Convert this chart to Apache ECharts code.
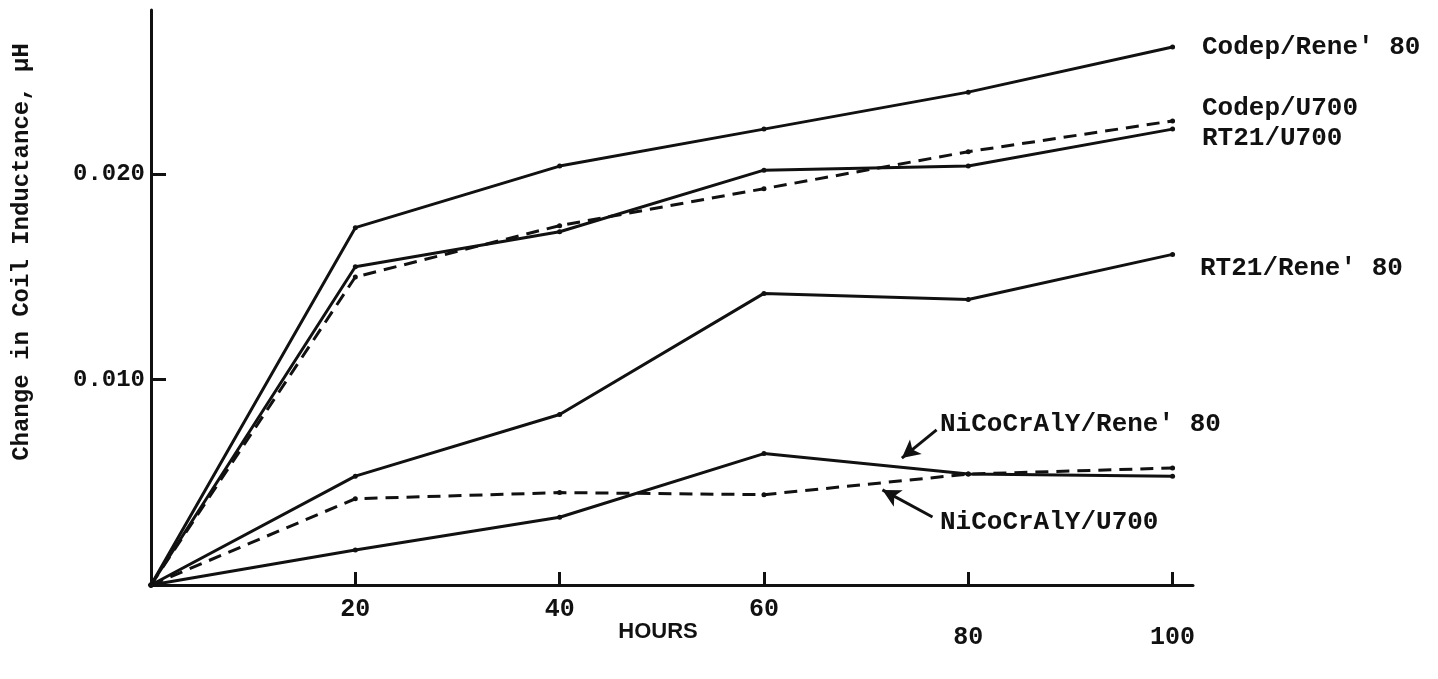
<!DOCTYPE html>
<html>
<head>
<meta charset="utf-8">
<script src="https://cdn.jsdelivr.net/npm/echarts@6/dist/echarts.min.js"></script>
<style>
html,body{margin:0;padding:0;background:#fff;}
#chart{width:1438px;height:679px;}
</style>
</head>
<body>
<div id="chart"></div>
<script>
// ---- data ----
const hours = [0, 20, 40, 60, 80, 100];
const codepRene80 = [0, 0.0174, 0.0204, 0.0222, 0.0240, 0.0262];
const codepU700   = [0, 0.0150, 0.0175, 0.0193, 0.0211, 0.0226];
const rt21U700    = [0, 0.0155, 0.0172, 0.0202, 0.0204, 0.0222];
const rt21Rene80  = [0, 0.0053, 0.0083, 0.0142, 0.0139, 0.0161];
const nicoRene80  = [0, 0.0017, 0.0033, 0.0064, 0.0054, 0.0053];
const nicoU700    = [0, 0.0042, 0.0045, 0.0044, 0.0054, 0.0057];
const xTicks = [20, 40, 60, 80, 100];
const yTicks = [0.01, 0.02];
const yTickLabels = ['0.010', '0.020'];
const xLowLabels = [80, 100];
const xAxisName = 'HOURS';
const yAxisName = 'Change in Coil Inductance, \u03bcH';
// annotation arrows (tail -> tip) in data units
const arrowRene = [[76.9, 0.00755], [73.5, 0.00618]];
const arrowU700 = [[76.5, 0.00331], [71.6, 0.00463]];

const mono = "'Liberation Mono', 'DejaVu Sans Mono', monospace";
const ink = '#111';

function pts(ys) { return hours.map((h, i) => [h, ys[i]]); }

function mkSeries(name, ys, dashed) {
  return {
    name: name, type: 'line', data: pts(ys),
    symbol: 'circle', symbolSize: 5, showSymbol: true,
    itemStyle: { color: ink },
    lineStyle: { color: ink, width: 3, type: dashed ? [13, 8] : 'solid' },
    z: 3, silent: true, animation: false
  };
}

const series = [
  mkSeries("Codep/Rene' 80", codepRene80, false),
  mkSeries('Codep/U700', codepU700, true),
  mkSeries('RT21/U700', rt21U700, false),
  mkSeries("RT21/Rene' 80", rt21Rene80, false),
  mkSeries("NiCoCrAlY/Rene' 80", nicoRene80, false),
  mkSeries('NiCoCrAlY/U700', nicoU700, true)
];
series[4].markLine = {
  silent: true, animation: false, symbol: ['none', 'arrow'], symbolSize: [14, 18],
  label: { show: false },
  lineStyle: { color: ink, width: 3, type: 'solid' },
  data: [
    [{ coord: arrowRene[0] }, { coord: arrowRene[1] }],
    [{ coord: arrowU700[0] }, { coord: arrowU700[1] }]
  ]
};

const chart = echarts.init(document.getElementById('chart'));
function label(txt, x, y) {
  return {
    type: 'text', x: x, y: y, silent: true,
    style: { text: txt, fontFamily: mono, fontWeight: 'bold', fontSize: 26, fill: ink, align: 'left', verticalAlign: 'middle' }
  };
}

chart.setOption({
  animation: false,
  backgroundColor: '#fff',
  grid: { left: 151, right: 245, top: 10, bottom: 94, containLabel: false },
  xAxis: {
    type: 'value', min: 0, max: 102,
    axisLine: { show: true, onZero: false, lineStyle: { color: ink, width: 3 } },
    axisTick: { show: true, inside: true, length: 13, customValues: xTicks, lineStyle: { color: ink, width: 3 } },
    splitLine: { show: false },
    axisLabel: {
      margin: 12, customValues: xTicks,
      fontFamily: mono, fontWeight: 'bold', fontSize: 25, color: ink,
      formatter: function (v) {
        return xLowLabels.indexOf(v) >= 0 ? '{lo|' + v + '}' : '{hi|' + v + '}';
      },
      rich: {
        hi: { fontFamily: mono, fontWeight: 'bold', fontSize: 25, color: ink, padding: [0, 0, 0, 0] },
        lo: { fontFamily: mono, fontWeight: 'bold', fontSize: 25, color: ink, padding: [28, 0, 0, 0] }
      }
    }
  },
  yAxis: {
    type: 'value', min: 0, max: 0.028,
    axisLine: { show: true, onZero: false, lineStyle: { color: ink, width: 3 } },
    axisTick: { show: true, inside: true, length: 15, customValues: yTicks, lineStyle: { color: ink, width: 3 } },
    splitLine: { show: false },
    axisLabel: {
      margin: 6, customValues: yTicks, fontFamily: mono, fontWeight: 'bold', fontSize: 24, color: ink,
      formatter: function (v) {
        const i = yTicks.findIndex(t => Math.abs(t - v) < 1e-9);
        return i >= 0 ? yTickLabels[i] : '';
      }
    }
  },
  graphic: [
    label("Codep/Rene' 80", 1202, 47),
    label('Codep/U700', 1202, 108),
    label('RT21/U700', 1202, 138),
    label("RT21/Rene' 80", 1200, 268),
    label("NiCoCrAlY/Rene' 80", 940, 424),
    label('NiCoCrAlY/U700', 940, 522),
    {
      type: 'text', x: 658, y: 632, silent: true,
      style: { text: xAxisName, fontFamily: "'Liberation Sans', Arial, sans-serif", fontWeight: 'bold', fontSize: 22, fill: ink, align: 'center', verticalAlign: 'middle' }
    },
    {
      type: 'text', x: 22, y: 252, rotation: Math.PI / 2, silent: true,
      style: { text: yAxisName, fontFamily: mono, fontWeight: 'bold', fontSize: 24, fill: ink, align: 'center', verticalAlign: 'middle' }
    }
  ],
  series: series
});
</script>
</body>
</html>
